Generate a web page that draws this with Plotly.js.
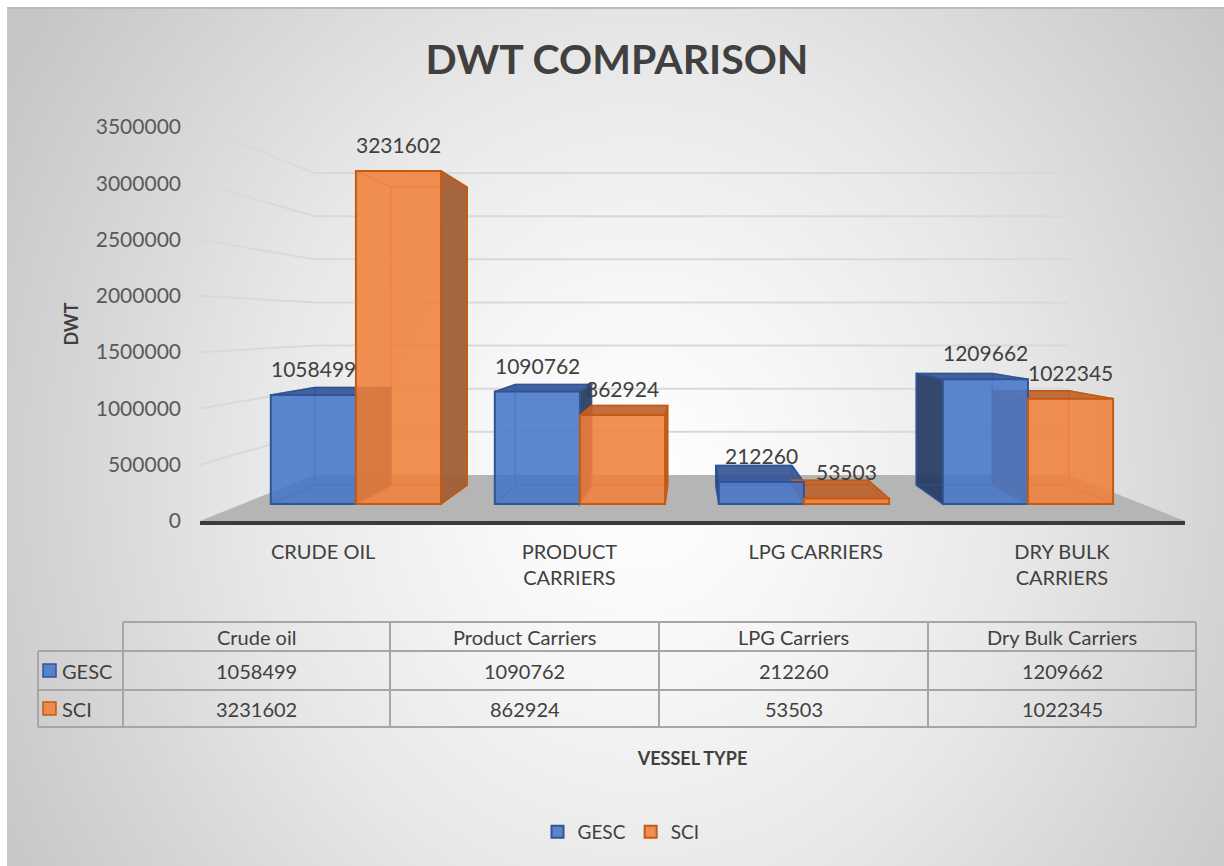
<!DOCTYPE html>
<html>
<head>
<meta charset="utf-8">
<script src="https://cdn.plot.ly/plotly-3.0.1.min.js"></script>
<style>
html,body{margin:0;padding:0;background:#ffffff;}
#wrap{position:relative;width:1224px;height:866px;overflow:hidden;}
#bg{position:absolute;left:7px;top:7px;right:0;bottom:0;border-top:2px solid #bdbdbd;border-left:1px solid #c6c6c6;
  background:radial-gradient(ellipse 60% 95% at 52% 55%, #ffffff 0%, #f7f7f7 22%, #e8e8e8 52%, #d4d4d4 80%, #c6c6c6 100%);}
#chart{position:absolute;left:0;top:0;width:1224px;height:866px;}
</style>
</head>
<body>
<div id="wrap"><div id="bg"></div><div id="chart"></div></div>
<script>
// ---------------- data ----------------
const categories = ['Crude oil', 'Product Carriers', 'LPG Carriers', 'Dry Bulk Carriers'];
const axisLabels = ['CRUDE OIL', 'PRODUCT<br>CARRIERS', 'LPG CARRIERS', 'DRY BULK<br>CARRIERS'];
const seriesNames = ['GESC', 'SCI'];
const gescValues = [1058499, 1090762, 212260, 1209662];
const sciValues = [3231602, 862924, 53503, 1022345];
const yTicks = [0, 500000, 1000000, 1500000, 2000000, 2500000, 3000000, 3500000];

// ---------------- styling / geometry ----------------
const W = 1224, H = 866;
const FONT = 'Lato, "Open Sans", "Noto Sans", sans-serif';
const TXT = '#404040';
const PL = 200, PR = 1185, PT = 127, PB = 521;       // front plane (pixels)
const X2R = [-0.696, 3.701], Y2R = [-165000, 3658500]; // bar axis ranges
const BAR_W = 0.38;
const VP = [690, 324], S_BOX = 0.895, S_WALL = 0.766;  // perspective
const colors = {
  GESC: {fill: 'rgba(70,118,200,0.88)', line: '#2f5597', top: 'rgba(52,86,150,0.92)', side: 'rgba(36,56,98,0.92)', inner: 'rgba(47,85,151,0.55)'},
  SCI:  {fill: 'rgba(240,128,58,0.88)', line: '#c55a11', top: 'rgba(190,100,48,0.92)', side: 'rgba(160,95,55,0.95)', inner: 'rgba(197,90,17,0.55)'}
};

const px = x => x / W, py = y => 1 - y / H;
const bx = v => PL + (v - X2R[0]) / (X2R[1] - X2R[0]) * (PR - PL);
const by = v => PB - (v - Y2R[0]) / (Y2R[1] - Y2R[0]) * (PB - PT);
const fy = v => PB - v / yTicks[yTicks.length - 1] * (PB - PT);
const back = (p, s) => [VP[0] + s * (p[0] - VP[0]), VP[1] + s * (p[1] - VP[1])];
const pathOf = pts => 'M ' + pts.map(p => px(p[0]).toFixed(5) + ',' + py(p[1]).toFixed(5)).join(' L ') + ' Z';
const lineShape = (a, b, color, w) => ({type: 'line', xref: 'paper', yref: 'paper', x0: px(a[0]), y0: py(a[1]), x1: px(b[0]), y1: py(b[1]), line: {color: color, width: w}, layer: 'below'});
const polyShape = (pts, fill, lc) => ({type: 'path', xref: 'paper', yref: 'paper', path: pathOf(pts), fillcolor: fill, line: {color: lc || 'rgba(0,0,0,0)', width: lc ? 1.5 : 0}, layer: 'below'});

const shapes = [];
// floor
const fl = [PL, PB], fr = [PR, PB];
shapes.push(polyShape([fl, fr, back(fr, S_WALL), back(fl, S_WALL)], '#b5b5b5'));
// back-wall grid lines and connector lines from the front ticks
yTicks.slice(1).forEach(v => {
  const a = [PL, fy(v)], b = [PR, fy(v)];
  shapes.push(lineShape(a, back(a, S_WALL), '#d9d9d9', 2));
  shapes.push(lineShape(back(a, S_WALL), back(b, S_WALL), '#d9d9d9', 2));
});
// 3D box faces for each bar
[gescValues, sciValues].forEach((vals, k) => {
  const c = colors[seriesNames[k]];
  vals.forEach((v, i) => {
    const x0 = bx(i + (k ? 0 : -BAR_W)), x1 = bx(i + (k ? BAR_W : 0));
    const yt = by(v), yb = by(0);
    const FTL = [x0, yt], FTR = [x1, yt], FBL = [x0, yb], FBR = [x1, yb];
    const BTL = back(FTL, S_BOX), BTR = back(FTR, S_BOX), BBL = back(FBL, S_BOX), BBR = back(FBR, S_BOX);
    if (x1 < VP[0]) shapes.push(polyShape([FTR, BTR, BBR, FBR], c.side, c.line));
    if (x0 > VP[0]) shapes.push(polyShape([FTL, BTL, BBL, FBL], c.side, c.line));
    if (yt > VP[1]) shapes.push(polyShape([FTL, FTR, BTR, BTL], c.top, c.line));
    [[BTL, BTR], [BTR, BBR], [BBR, BBL], [BBL, BTL], [FTL, BTL], [FTR, BTR], [FBL, BBL], [FBR, BBR]]
      .forEach(e => shapes.push(lineShape(e[0], e[1], c.inner, 1.5)));
  });
});

// ---------------- data table ----------------
const colX = [38, 123, 390, 659, 928, 1196];
const rowY = [622, 651, 690, 727];
const TL = '#a6a6a6';
const tline = (x0, y0, x1, y1) => ({type: 'line', xref: 'paper', yref: 'paper', x0: px(x0), y0: py(y0), x1: px(x1), y1: py(y1), line: {color: TL, width: 2}});
shapes.push(tline(colX[1], rowY[0], colX[5], rowY[0]));
for (let r = 1; r < rowY.length; r++) shapes.push(tline(colX[0], rowY[r], colX[5], rowY[r]));
shapes.push(tline(colX[0], rowY[1], colX[0], rowY[3]));
for (let c = 1; c < colX.length; c++) shapes.push(tline(colX[c], rowY[0], colX[c], rowY[3]));

const annotations = [];
const tableRows = [gescValues, sciValues];
const cellText = (x, y, text, xa) => ({xref: 'paper', yref: 'paper', x: px(x), y: py(y), xanchor: xa || 'center', yanchor: 'middle',
  text: text, showarrow: false, font: {family: FONT, size: 20, color: TXT}});
categories.forEach((cat, i) => {
  const cx = (colX[i + 1] + colX[i + 2]) / 2;
  annotations.push(cellText(cx, (rowY[0] + rowY[1]) / 2, cat));
  tableRows.forEach((vals, r) => annotations.push(cellText(cx, (rowY[r + 1] + rowY[r + 2]) / 2, String(vals[i]))));
});
seriesNames.forEach((name, r) => {
  const cy = (rowY[r + 1] + rowY[r + 2]) / 2;
  const c = colors[name];
  shapes.push({type: 'rect', xref: 'paper', yref: 'paper', x0: px(43), x1: px(56), y0: py(cy - 6.5), y1: py(cy + 6.5), fillcolor: c.fill, line: {color: c.line, width: 1.5}});
  annotations.push(cellText(60, cy, name, 'left'));
});

// data labels
[gescValues, sciValues].forEach((vals, k) => {
  vals.forEach((v, i) => {
    annotations.push({xref: 'x2', yref: 'y2', x: i + (k ? 1 : -1) * BAR_W / 2, y: v, xanchor: 'center', yanchor: 'bottom', yshift: 12,
      text: String(v), showarrow: false, font: {family: FONT, size: 21, color: TXT}});
  });
});

// ---------------- traces ----------------
const traces = [gescValues, sciValues].map((vals, k) => ({
  type: 'bar', name: seriesNames[k], x: categories, y: vals, xaxis: 'x2', yaxis: 'y2',
  marker: {color: colors[seriesNames[k]].fill, line: {color: colors[seriesNames[k]].line, width: 2}},
  hoverinfo: 'x+y+name'
}));
// empty helper trace so that the tick / label axes get drawn
traces.push({type: 'scatter', x: [], y: [], xaxis: 'x3', yaxis: 'y3', showlegend: false, hoverinfo: 'skip'});

const layout = {
  width: W, height: H,
  margin: {l: 0, r: 0, t: 0, b: 0},
  paper_bgcolor: 'rgba(0,0,0,0)', plot_bgcolor: 'rgba(0,0,0,0)',
  font: {family: FONT, color: TXT},
  title: {text: '<b>DWT COMPARISON</b>', x: px(617), xanchor: 'center', y: py(60), yanchor: 'middle',
    font: {family: FONT, size: 41, color: TXT}},
  barmode: 'group', bargap: 0.24, bargroupgap: 0,
  xaxis: {visible: false},
  yaxis: {visible: false},
  // bar axes (hidden, perspective front face)
  xaxis2: {domain: [px(PL), px(PR)], type: 'category', range: X2R, visible: false, anchor: 'y2'},
  yaxis2: {domain: [py(PB), py(PT)], range: Y2R, visible: false, anchor: 'x2'},
  // visible tick / label axes
  xaxis3: {domain: [px(PL), px(PR)], range: [-0.5, 3.5], tickvals: [0, 1, 2, 3], ticktext: axisLabels,
    anchor: 'y3', showline: true, linecolor: '#3a3a3a', linewidth: 4, showgrid: false, zeroline: false,
    ticks: '', ticklabelstandoff: 10, tickfont: {family: FONT, size: 20, color: TXT},
    title: {text: '<b>VESSEL TYPE</b>', standoff: 165, font: {family: FONT, size: 18, color: TXT}}},
  yaxis3: {domain: [py(PB), py(PT)], range: [0, yTicks[yTicks.length - 1]], tickvals: yTicks, ticktext: yTicks.map(String),
    anchor: 'x3', showgrid: false, zeroline: false, showline: false, ticks: '', ticklabelstandoff: 18,
    tickfont: {family: FONT, size: 21, color: '#595959'},
    title: {text: '<b>DWT</b>', standoff: 12, font: {family: FONT, size: 18, color: TXT}}},
  showlegend: true,
  legend: {orientation: 'h', x: px(621), xanchor: 'center', y: py(832), yanchor: 'middle', bgcolor: 'rgba(0,0,0,0)',
    font: {family: FONT, size: 19, color: TXT}},
  shapes: shapes,
  annotations: annotations
};

Plotly.newPlot('chart', traces, layout, {displayModeBar: false});
</script>
</body>
</html>
